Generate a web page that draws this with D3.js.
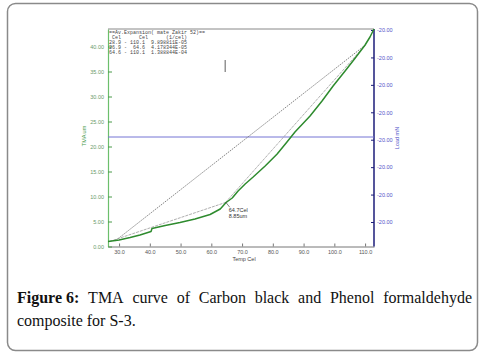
<!DOCTYPE html>
<html>
<head>
<meta charset="utf-8">
<script src="https://cdn.jsdelivr.net/npm/d3@7"></script>
<style>
  body { margin: 0; background: #fff; }
  svg { display: block; }
</style>
</head>
<body>
<svg id="chart" width="482" height="354"></svg>
<script>
"use strict";

// TMA curve (temperature in Cel, dimension change in um)
const temps = [26.4, 30, 33.6, 36.8, 40.4, 40.7, 45, 49.8, 54.7, 59.6, 62.9, 64.8, 66.8, 68.7, 71, 73.6,
  77.5, 81.4, 84.6, 87.2, 92.1, 96, 99.6, 103.5, 106.8, 110, 111.6, 112.9];
const tma = [1.0, 1.3, 1.8, 2.3, 3.0, 3.6, 4.2, 4.8, 5.5, 6.4, 7.5, 8.8, 9.7, 11.1, 12.5, 13.9,
  16.1, 18.5, 20.9, 22.9, 26.1, 29.1, 32.1, 35.1, 37.7, 40.3, 41.9, 43.5];

// expansion secants: [t1, y1, t2, y2]
const secantFull = [28.9, 1.2, 110.1, 40.3];
const secantLow = [26.9, 1.0, 64.6, 8.8];
const secantHigh = [64.6, 8.8, 110.1, 40.3];

const xTicks = [30, 40, 50, 60, 70, 80, 90, 100, 110];
const yTicks = [0, 5, 10, 15, 20, 25, 30, 35, 40];
const loadTickLabels = ["-20.00", "-20.00", "-20.00", "-20.00", "-20.00", "-20.00", "-20.00", "-20.00"];
const loadLevel = 21.9;

const legendLines = [
  "==Av.Expansion( mate Zakir 52)==",
  " Cel      Cel      (1/cel)",
  "28.9 - 110.1  9.898811E-05",
  "26.9 -  64.6  4.178344E-05",
  "64.6 - 110.1  1.388844E-04"
];

const captionWords = ["TMA", "curve", "of", "Carbon", "black", "and", "Phenol", "formaldehyde"];

const svg = d3.select("#chart");

svg.append("rect")
  .attr("x", 7.5).attr("y", 3.5)
  .attr("width", 470).attr("height", 347)
  .attr("rx", 8)
  .attr("fill", "none")
  .attr("stroke", "#8a8a8a")
  .attr("stroke-width", 1.5);

const plotLeft = 108, plotRight = 374, plotTop = 29, plotBottom = 246.5;

const x = d3.scaleLinear().domain([26.4, 112.9]).range([plotLeft, plotRight]);
const y = d3.scaleLinear().domain([0, 43.5]).range([plotBottom, plotTop]);
const yLoad = d3.scalePoint().domain(d3.range(loadTickLabels.length)).range([30, 222]);

// top frame line
svg.append("line")
  .attr("x1", plotLeft).attr("x2", plotRight)
  .attr("y1", plotTop).attr("y2", plotTop)
  .attr("stroke", "#888").attr("stroke-width", 1);

// x axis
const xAxis = svg.append("g")
  .attr("transform", "translate(0," + plotBottom + ")")
  .call(d3.axisBottom(x).tickValues(xTicks).tickFormat(d3.format(".1f")).tickSize(-3).tickSizeOuter(0).tickPadding(4));
xAxis.select(".domain").attr("stroke", "#777");
xAxis.selectAll(".tick line").attr("stroke", "#777");
xAxis.selectAll("text").attr("font-family", "Arial, 'Liberation Sans', sans-serif").attr("font-size", 5.5).attr("fill", "#555");

// left axis
const yAxis = svg.append("g")
  .attr("transform", "translate(" + plotLeft + ",0)")
  .call(d3.axisLeft(y).tickValues(yTicks).tickFormat(d3.format(".2f")).tickSize(-4).tickSizeOuter(0).tickPadding(4));
yAxis.select(".domain").attr("stroke", "#6cbf6c").attr("stroke-width", 1.2);
yAxis.selectAll(".tick line").attr("stroke", "#4a9a4a");
yAxis.selectAll("text").attr("font-family", "Arial, 'Liberation Sans', sans-serif").attr("font-size", 5.5).attr("fill", "#6a9a6a");

// right axis (load)
const rAxis = svg.append("g")
  .attr("transform", "translate(" + plotRight + ",0)")
  .call(d3.axisRight(yLoad).tickFormat((d) => loadTickLabels[d]).tickSize(0).tickPadding(3));
rAxis.select(".domain").remove();
rAxis.append("line")
  .attr("x1", 0).attr("x2", 0).attr("y1", plotTop).attr("y2", plotBottom)
  .attr("stroke", "#1c1c7a").attr("stroke-width", 1.5);
rAxis.selectAll(".tick").append("line")
  .attr("x1", -3).attr("x2", 0)
  .attr("stroke", "#1c1c7a");
rAxis.selectAll("text").attr("font-family", "Arial, 'Liberation Sans', sans-serif").attr("font-size", 5.5).attr("fill", "#5050c8");

// axis titles
svg.append("text")
  .attr("transform", "translate(86,136) rotate(-90)")
  .attr("text-anchor", "middle")
  .attr("font-family", "Arial, 'Liberation Sans', sans-serif")
  .attr("font-size", 5.5).attr("fill", "#4a9a4a")
  .text("TMA um");

svg.append("text")
  .attr("transform", "translate(399,138) rotate(-90)")
  .attr("text-anchor", "middle")
  .attr("font-family", "Arial, 'Liberation Sans', sans-serif")
  .attr("font-size", 5.5).attr("fill", "#5050c8")
  .text("Load mN");

svg.append("text")
  .attr("x", 244).attr("y", 261)
  .attr("text-anchor", "middle")
  .attr("font-family", "Arial, 'Liberation Sans', sans-serif")
  .attr("font-size", 5.5).attr("fill", "#444")
  .text("Temp Cel");

// load level line
svg.append("line")
  .attr("x1", plotLeft).attr("x2", plotRight)
  .attr("y1", y(loadLevel)).attr("y2", y(loadLevel))
  .attr("stroke", "#7474d4").attr("stroke-width", 1);

// secant lines
function drawSecant(s, color, dash) {
  svg.append("line")
    .attr("x1", x(s[0])).attr("y1", y(s[1]))
    .attr("x2", x(s[2])).attr("y2", y(s[3]))
    .attr("stroke", color)
    .attr("stroke-width", 0.8)
    .attr("stroke-dasharray", dash);
}
drawSecant(secantFull, "#666", "1.5,1");
drawSecant(secantLow, "#999", "3,1");
drawSecant(secantHigh, "#999", "3,1");

// TMA curve
const line = d3.line()
  .x((d) => x(d[0]))
  .y((d) => y(d[1]));

svg.append("path")
  .datum(d3.zip(temps, tma))
  .attr("d", line)
  .attr("fill", "none")
  .attr("stroke", "#2e8b2e")
  .attr("stroke-width", 1.5)
  .attr("stroke-linejoin", "round");

// cursor mark
svg.append("line")
  .attr("x1", x(64.5)).attr("x2", x(64.5))
  .attr("y1", y(37.3)).attr("y2", y(34.9))
  .attr("stroke", "#333").attr("stroke-width", 0.8);

// annotation at inflection
svg.append("line")
  .attr("x1", x(64.7)).attr("y1", y(8.85))
  .attr("x2", x(64.7) + 4).attr("y2", y(8.85) + 5)
  .attr("stroke", "#333").attr("stroke-width", 0.6);
svg.append("text")
  .attr("x", x(64.7) + 3).attr("y", y(8.85) + 10)
  .attr("font-family", "Arial, 'Liberation Sans', sans-serif")
  .attr("font-size", 5.5).attr("fill", "#333")
  .text("64.7Cel");
svg.append("text")
  .attr("x", x(64.7) + 3).attr("y", y(8.85) + 16)
  .attr("font-family", "Arial, 'Liberation Sans', sans-serif")
  .attr("font-size", 5.5).attr("fill", "#333")
  .text("8.85um");

// legend block
svg.append("g")
  .selectAll("text")
  .data(legendLines)
  .enter()
  .append("text")
  .attr("x", plotLeft + 1)
  .attr("y", (d, i) => 34 + i * 5)
  .attr("font-family", "'Liberation Mono', 'DejaVu Sans Mono', monospace")
  .attr("font-size", 5)
  .attr("fill", "#444")
  .style("white-space", "pre")
  .text((d) => d);

// caption, first line justified word by word
const capLeft = 17, capRight = 472;
const capFont = "'Liberation Serif', 'DejaVu Serif', serif";
const capLine1 = svg.append("g");
const pieces = [{ t: "Figure 6:", bold: true }].concat(captionWords.map((t) => ({ t: t, bold: false })));
const nodes = pieces.map((p) => capLine1.append("text")
  .attr("y", 303)
  .attr("font-family", capFont)
  .attr("font-size", 16)
  .attr("font-weight", p.bold ? "bold" : "normal")
  .attr("fill", "#111")
  .text(p.t));
const widths = nodes.map((n) => n.node().getComputedTextLength());
const gap = (capRight - capLeft - d3.sum(widths)) / (pieces.length - 1);
let cx = capLeft;
nodes.forEach((n, i) => {
  n.attr("x", cx);
  cx += widths[i] + gap;
});

svg.append("text")
  .attr("x", capLeft).attr("y", 326)
  .attr("font-family", capFont)
  .attr("font-size", 16)
  .attr("fill", "#111")
  .text("composite for S-3.");
</script>
</body>
</html>
